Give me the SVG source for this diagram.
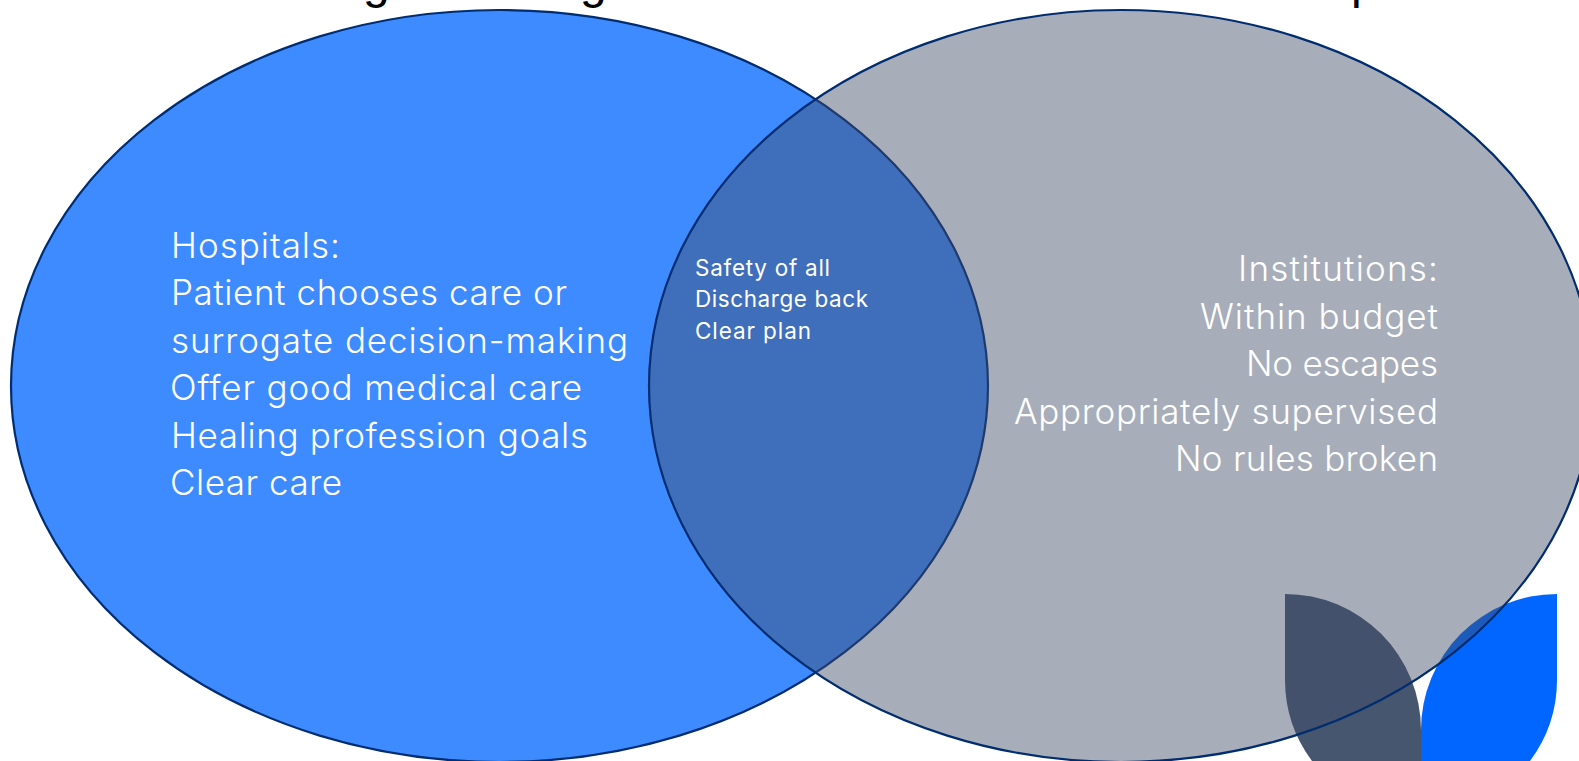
<svg xmlns="http://www.w3.org/2000/svg" width="1579" height="761" viewBox="0 0 1579 761">
<style>
.c{stroke:#002c70;stroke-width:2.2}
.t{font-family:"Inter","Noto Sans",sans-serif;font-weight:300;fill:#fff;font-size:35px}
.s{font-size:22.500px;font-weight:400}
.r{text-anchor:end}
.k{font-family:"Liberation Sans",sans-serif;font-size:48px;fill:#000}
</style>
<rect width="1579" height="761" fill="#fff"/>
<text class="k" x="363" y="-2">g</text>
<text class="k" x="580" y="-2">g</text>
<text class="k" x="1351" y="-2">p</text>
<g id="leaf-dark"><path fill="#46566f" d="M1285 594A136 136 0 0 1 1421 730V761H1312A136 136 0 0 1 1285 680Z"/></g>
<g id="leaf-blue"><path fill="#0066ff" d="M1557 594A136 136 0 0 0 1421 730V761H1530A136 136 0 0 0 1557 680Z"/></g>
<g id="hospitals"><ellipse class="c" cx="499.500" cy="386" rx="488.500" ry="376" fill="#3d8bff"/>
<g class="t"><text x="171" y="258" textLength="169">Hospitals:</text><text x="171" y="305" textLength="396">Patient chooses care or</text><text x="171" y="353" textLength="457">surrogate decision-making</text><text x="170" y="400" textLength="412">Offer good medical care</text><text x="171" y="448" textLength="417">Healing profession goals</text><text x="170" y="495" textLength="172">Clear care</text></g></g>
<g id="institutions"><ellipse class="c" cx="1121" cy="386" rx="472" ry="376" fill="#424d68" fill-opacity=".46"/>
<g class="t r"><text x="1438" y="281" textLength="200">Institutions:</text><text x="1438" y="329" textLength="238">Within budget</text><text x="1438" y="376" textLength="192">No escapes</text><text x="1438" y="424" textLength="424">Appropriately supervised</text><text x="1438" y="471" textLength="263">No rules broken</text></g></g>
<g id="overlap" class="t s"><text x="695" y="276" textLength="135">Safety of all</text><text x="695" y="307" textLength="173">Discharge back</text><text x="695" y="339" textLength="116">Clear plan</text></g>
<g id="connectors"/>
</svg>
